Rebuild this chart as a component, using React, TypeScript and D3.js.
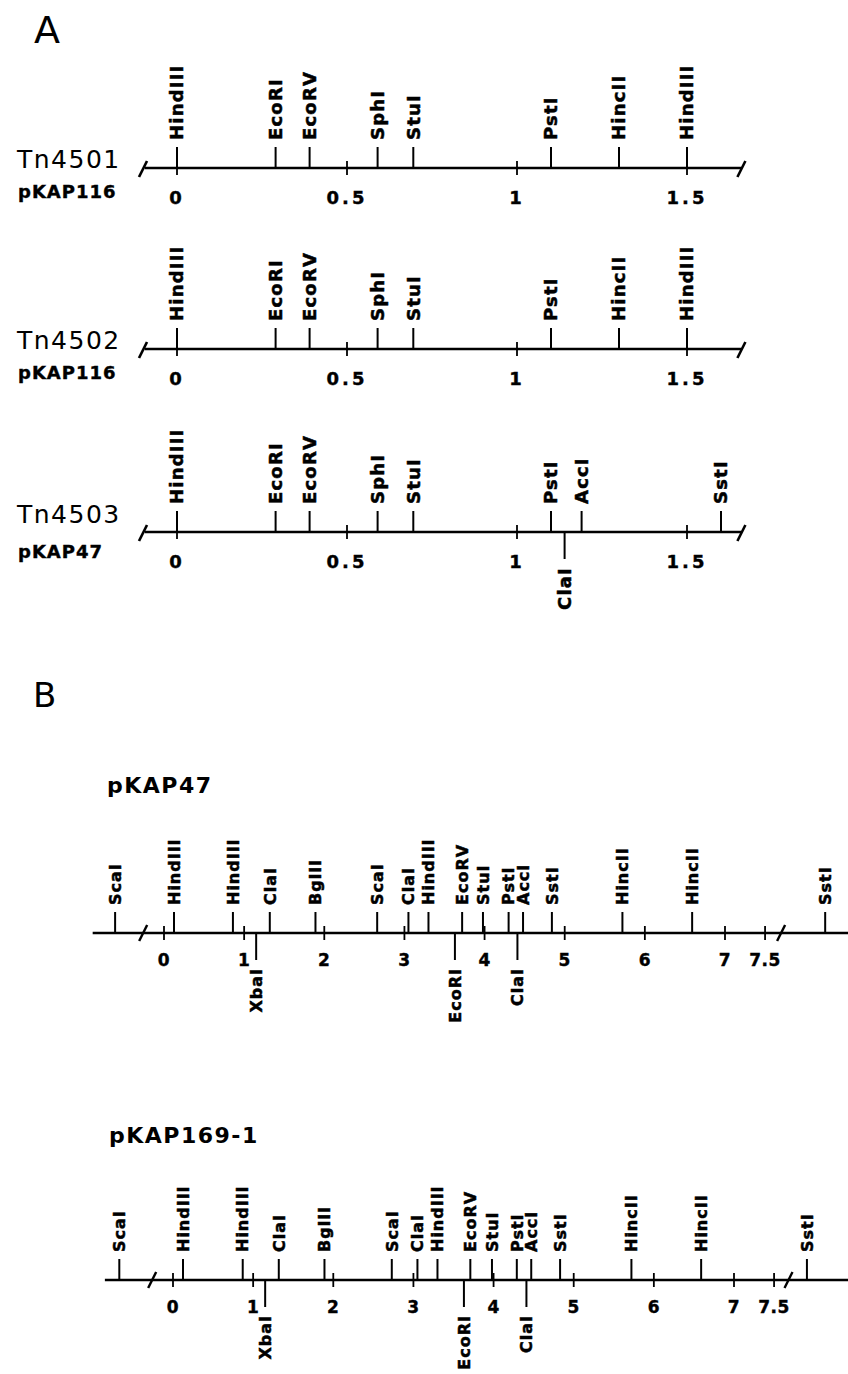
import React, { useEffect, useRef } from "react";
import * as d3 from "d3";

// panel A: transposon maps (kb)
const tnNames = ["Tn4501", "Tn4502", "Tn4503"];
const tnHosts = ["pKAP116", "pKAP116", "pKAP47"];
const tnTickValues = [0, 0.5, 1, 1.5];
const tnTickLabels = ["0", "0.5", "1", "1.5"];

const tn4501Names = ["HindIII", "EcoRI", "EcoRV", "SphI", "StuI", "PstI", "HincII", "HindIII"];
const tn4501Pos = [0, 0.29, 0.39, 0.59, 0.695, 1.1, 1.3, 1.5];
const tn4502Names = ["HindIII", "EcoRI", "EcoRV", "SphI", "StuI", "PstI", "HincII", "HindIII"];
const tn4502Pos = [0, 0.29, 0.39, 0.59, 0.695, 1.1, 1.3, 1.5];
const tn4503Names = ["HindIII", "EcoRI", "EcoRV", "SphI", "StuI", "PstI", "AccI", "SstI"];
const tn4503Pos = [0, 0.29, 0.39, 0.59, 0.695, 1.1, 1.19, 1.6];
const tn4503BelowNames = ["ClaI"];
const tn4503BelowPos = [1.14];

// panel B: plasmid maps (kb)
const mapNames = ["pKAP47", "pKAP169-1"];
const mapTickValues = [0, 1, 2, 3, 4, 5, 6, 7, 7.5];
const mapTickLabels = ["0", "1", "2", "3", "4", "5", "6", "7", "7.5"];

const pkap47AboveNames = ["ScaI", "HindIII", "HindIII", "ClaI", "BglII", "ScaI", "ClaI", "HindIII", "EcoRV", "StuI", "PstI", "AccI", "SstI", "HincII", "HincII", "SstI"];
const pkap47AbovePos = [-0.61, 0.125, 0.86, 1.32, 1.89, 2.66, 3.05, 3.3, 3.72, 3.98, 4.3, 4.48, 4.84, 5.72, 6.59, 8.25];
const pkap47BelowNames = ["XbaI", "EcoRI", "ClaI"];
const pkap47BelowPos = [1.15, 3.63, 4.41];
const pkap47Breaks = [-0.26, 7.7];

const pkap169AboveNames = ["ScaI", "HindIII", "HindIII", "ClaI", "BglII", "ScaI", "ClaI", "HindIII", "EcoRV", "StuI", "PstI", "AccI", "SstI", "HincII", "HincII", "SstI"];
const pkap169AbovePos = [-0.67, 0.125, 0.87, 1.32, 1.89, 2.73, 3.05, 3.3, 3.71, 3.98, 4.29, 4.47, 4.83, 5.72, 6.59, 7.91];
const pkap169BelowNames = ["XbaI", "EcoRI", "ClaI"];
const pkap169BelowPos = [1.15, 3.63, 4.41];
const pkap169Breaks = [-0.26, 7.68];

const FONT = "'DejaVu Sans', sans-serif";

function drawMap(g, o) {
  const x = o.scale;
  const y = o.y;

  // backbone
  g.append("line")
    .attr("x1", x(o.extent[0])).attr("x2", x(o.extent[1]))
    .attr("y1", y).attr("y2", y)
    .attr("stroke", "#000").attr("stroke-width", 2.6);

  // scale ticks
  g.selectAll(".tk").data(o.ticks).enter().append("line")
    .attr("x1", d => x(d)).attr("x2", d => x(d))
    .attr("y1", y - 7).attr("y2", y + 7)
    .attr("stroke", "#000").attr("stroke-width", 1.8);

  g.selectAll(".tl").data(o.ticks).enter().append("text")
    .attr("x", d => x(d)).attr("y", y + o.numOffset)
    .attr("text-anchor", "middle")
    .attr("font-family", FONT).attr("font-weight", "bold")
    .attr("font-size", o.numSize).attr("letter-spacing", o.numSpacing)
    .attr("stroke", "#000").attr("stroke-width", 0.4)
    .text((d, i) => o.tickLabels[i]);

  // breaks
  g.selectAll(".br").data(o.breaks).enter().append("line")
    .attr("x1", d => x(d) - 4).attr("x2", d => x(d) + 4)
    .attr("y1", y + 8).attr("y2", y - 8)
    .attr("stroke", "#000").attr("stroke-width", 2.4);

  // sites above
  const above = o.abovePos.map((p, i) => ({ p, name: o.aboveNames[i] }));
  g.selectAll(".sa").data(above).enter().append("line")
    .attr("x1", d => x(d.p)).attr("x2", d => x(d.p))
    .attr("y1", y - 21).attr("y2", y)
    .attr("stroke", "#000").attr("stroke-width", 2);
  g.selectAll(".sat").data(above).enter().append("text")
    .attr("transform", d => `translate(${x(d.p)},${y - 28}) rotate(-90)`)
    .attr("dy", "0.36em")
    .attr("text-anchor", "start")
    .attr("font-family", FONT).attr("font-weight", "bold")
    .attr("font-size", o.siteSize).attr("letter-spacing", o.siteSpacing)
    .attr("stroke", "#000").attr("stroke-width", 0.5)
    .text(d => d.name);

  // sites below
  const below = o.belowPos.map((p, i) => ({ p, name: o.belowNames[i] }));
  g.selectAll(".sb").data(below).enter().append("line")
    .attr("x1", d => x(d.p)).attr("x2", d => x(d.p))
    .attr("y1", y).attr("y2", y + 27)
    .attr("stroke", "#000").attr("stroke-width", 2);
  g.selectAll(".sbt").data(below).enter().append("text")
    .attr("transform", d => `translate(${x(d.p)},${y + 35}) rotate(-90)`)
    .attr("dy", "0.36em")
    .attr("text-anchor", "end")
    .attr("font-family", FONT).attr("font-weight", "bold")
    .attr("font-size", o.siteSize).attr("letter-spacing", o.siteSpacing)
    .attr("stroke", "#000").attr("stroke-width", 0.5)
    .text(d => d.name);
}

export default function App() {
  const ref = useRef(null);

  useEffect(() => {
    const svg = d3.select(ref.current);
    svg.selectAll("*").remove();

    // panel A
    svg.append("text").attr("x", 34).attr("y", 43)
      .attr("font-family", FONT).attr("font-size", 38).text("A");

    const xA = d3.scaleLinear().domain([0, 1.5]).range([177, 687]);
    const rowsY = [168, 349, 532];
    const rowNameDy = [0, 0, -9];
    const rowHostDy = [30, 30, 26];
    const rowSites = [
      [tn4501Names, tn4501Pos, [], []],
      [tn4502Names, tn4502Pos, [], []],
      [tn4503Names, tn4503Pos, tn4503BelowNames, tn4503BelowPos],
    ];
    rowsY.forEach((ry, i) => {
      const g = svg.append("g");
      g.append("text").attr("x", 17).attr("y", ry + rowNameDy[i])
        .attr("font-family", FONT).attr("font-size", 25).attr("letter-spacing", 1.5)
        .text(tnNames[i]);
      g.append("text").attr("x", 18).attr("y", ry + rowHostDy[i])
        .attr("font-family", FONT).attr("font-weight", "bold")
        .attr("font-size", 18).attr("letter-spacing", 1)
        .attr("stroke", "#000").attr("stroke-width", 0.4)
        .text(tnHosts[i]);
      drawMap(g, {
        scale: xA, y: ry, extent: [-0.095, 1.66],
        ticks: tnTickValues, tickLabels: tnTickLabels,
        numOffset: 36, numSize: 18, numSpacing: 3,
        breaks: [], siteSize: 18, siteSpacing: 1.2,
        aboveNames: rowSites[i][0], abovePos: rowSites[i][1],
        belowNames: rowSites[i][2], belowPos: rowSites[i][3],
      });
      // end slashes of the insert
      g.selectAll(".es").data([-0.1, 1.66]).enter().append("line")
        .attr("x1", d => xA(d) - 4).attr("x2", d => xA(d) + 4)
        .attr("y1", ry + 9).attr("y2", ry - 7)
        .attr("stroke", "#000").attr("stroke-width", 2.6);
    });

    // panel B
    svg.append("text").attr("x", 33).attr("y", 707)
      .attr("font-family", FONT).attr("font-size", 34).text("B");

    const maps = [
      {
        y: 933, titleY: 793, titleX: 107,
        scale: d3.scaleLinear().domain([0, 7]).range([164, 725]),
        extent: [-0.89, 8.6], breaks: pkap47Breaks,
        aboveNames: pkap47AboveNames, abovePos: pkap47AbovePos,
        belowNames: pkap47BelowNames, belowPos: pkap47BelowPos,
      },
      {
        y: 1280, titleY: 1143, titleX: 109,
        scale: d3.scaleLinear().domain([0, 7]).range([173, 734]),
        extent: [-0.85, 8.6], breaks: pkap169Breaks,
        aboveNames: pkap169AboveNames, abovePos: pkap169AbovePos,
        belowNames: pkap169BelowNames, belowPos: pkap169BelowPos,
      },
    ];
    maps.forEach((m, i) => {
      const g = svg.append("g");
      g.append("text").attr("x", m.titleX).attr("y", m.titleY)
        .attr("font-family", FONT).attr("font-weight", "bold")
        .attr("font-size", 22).attr("letter-spacing", 1.5)
        .text(mapNames[i]);
      drawMap(g, {
        ...m,
        ticks: mapTickValues, tickLabels: mapTickLabels,
        numOffset: 33, numSize: 17, numSpacing: 0.5,
        siteSize: 16, siteSpacing: 1,
      });
    });
  }, []);

  return (
    <svg ref={ref} width={848} height={1374}
      style={{ position: "absolute", left: 0, top: 0, background: "#fff" }} />
  );
}
